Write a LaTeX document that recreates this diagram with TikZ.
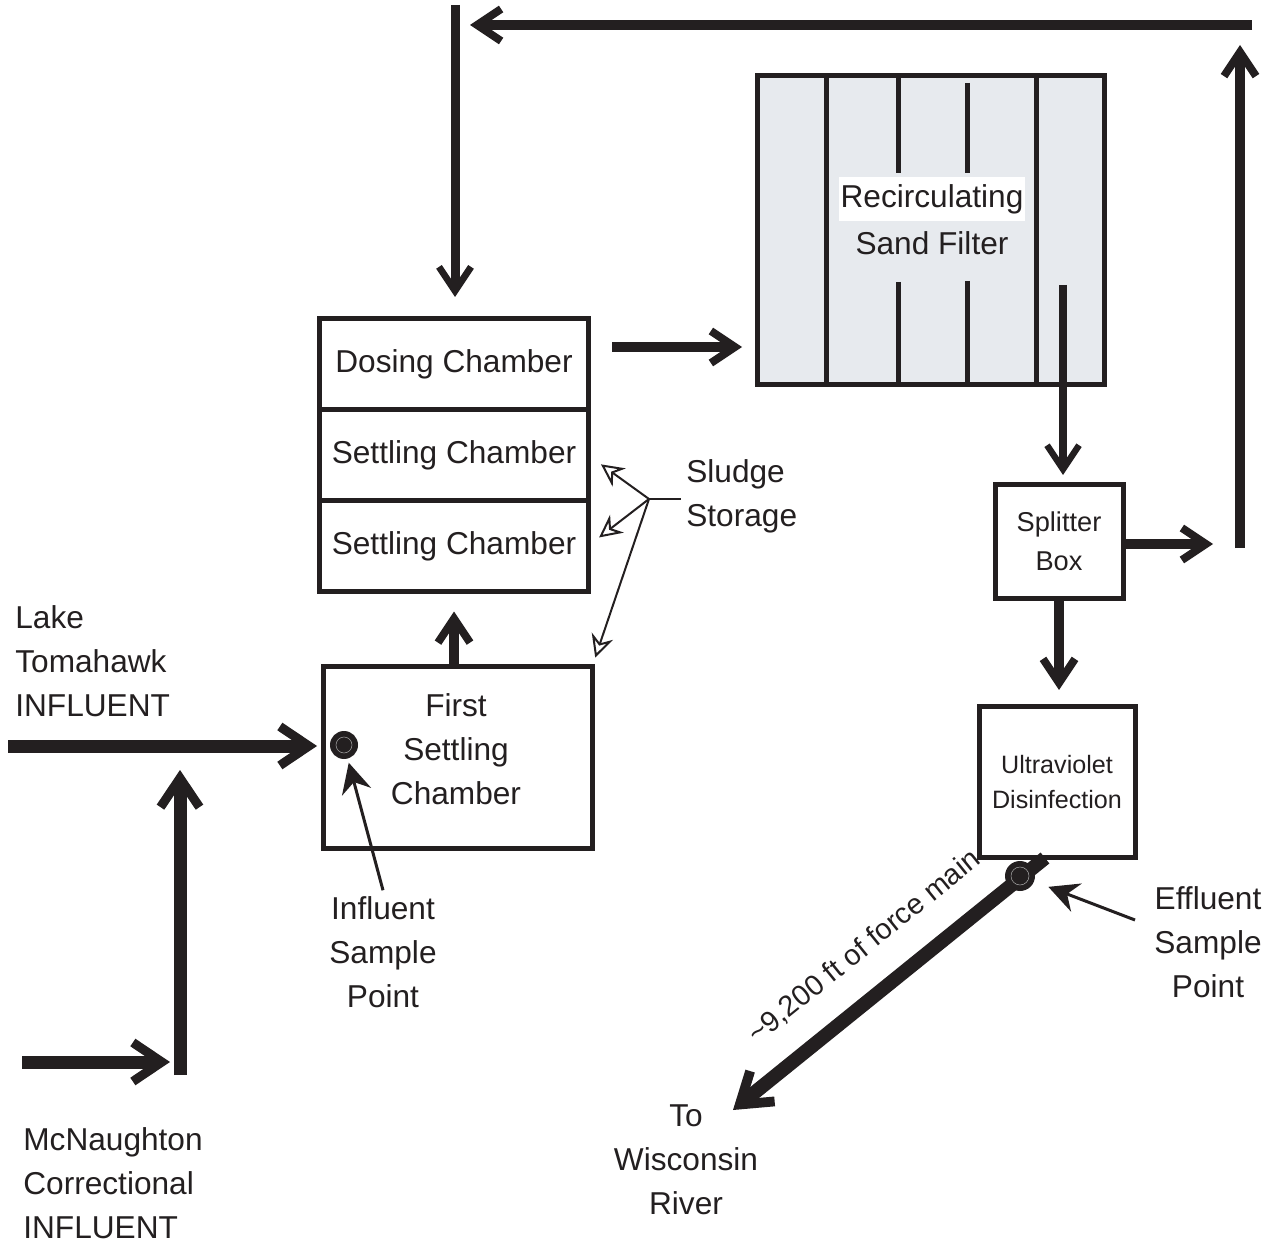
\documentclass[tikz,border=0pt]{standalone}
\usepackage{fontspec}
\setmainfont{Liberation Sans}
\usepackage{tikz}
\usetikzlibrary{positioning, arrows.meta, calc}
\definecolor{ink}{HTML}{231F20}
\definecolor{sandgrey}{HTML}{E7EAEE}

\begin{document}
\begin{tikzpicture}[x=0.2mm, y=-0.2mm,
        every node/.style={text=ink, font=\fontsize{18}{25}\selectfont},
        chamber/.style={draw=ink, line width=1mm, minimum width=53.6mm, minimum height=18.2mm, inner sep=0pt, outer sep=0pt},
        flow/.style={draw=ink, line width=2.1mm, line join=miter, -{Straight Barb[length=4.8mm, width=6.4mm, line width=0pt 0.75]}},
        bigflow/.style={flow, line width=2.6mm, -{Straight Barb[length=5.8mm, width=7.8mm, line width=0pt 0.7]}},
        pointer/.style={draw=ink, line width=0.6mm, -{Stealth[length=6mm, width=6mm, inset=2mm]}},
        sludgeptr/.style={draw=ink, line width=0.4mm, -{Stealth[fill=white, length=4.5mm, width=4.5mm, inset=1.5mm]}},
        sample/.style={circle, fill=ink, minimum size=5.6mm, inner sep=0pt}
    ]
        \useasboundingbox (0,0) rectangle (1271,1243);

        \node[chamber] (dosing) at (454,364) {Dosing Chamber};
        \node[chamber, below=0pt of dosing] (settleA) {Settling Chamber};
        \node[chamber, below=0pt of settleA] (settleB) {Settling Chamber};
        \node[chamber, minimum height=36.2mm] (first) at (458,757.5) {};
        \node[align=center] (firstText) at (456,749) {First\\Settling\\Chamber};

        \node[draw=ink, line width=1mm, fill=sandgrey, minimum width=69.4mm, minimum height=61.6mm, inner sep=0pt] (filter) at (930.5,230) {};
        \foreach \px/\ya/\yb in {826/76/384, 1036/76/384, 898/76/173, 967/83/173, 898/282/384, 967/281/387}
            \draw[ink, line width=1mm] (\px,\ya) -- (\px,\yb);
        \node[fill=white, inner xsep=0.3mm, inner ysep=1.5mm] (rsfA) at (932,199) {Recirculating};
        \node (rsfB) at (932,243) {Sand Filter};

        \node[chamber, minimum width=25.6mm, minimum height=22.6mm, align=center, font=\fontsize{15.5}{22}\selectfont] (splitter) at (1059,541.5) {Splitter\\Box};
        \node[chamber, minimum width=31.2mm, minimum height=30mm, align=center, font=\fontsize{14.3}{20}\selectfont] (uv) at (1057,782) {Ultraviolet\\Disinfection};

        \node[sample] (indot) at (344,745) {};
        \draw[gray!70, line width=0.1mm] (indot) circle (1.6mm);
        \node[sample, minimum size=6mm] (effdot) at (1020,876) {};

        \coordinate (recycleA) at (1252,25);
        \coordinate (recycleB) at (470,25);
        \coordinate (riserA) at (1240,548);
        \coordinate (riserB) at (1240,45);
        \coordinate (dropA) at (455,5);
        \coordinate (doseA) at (612,347);
        \coordinate (doseB) at (742,347);
        \coordinate (lakeA) at (8,746);
        \coordinate (lakeB) at (317,746);
        \coordinate (mcnA) at (22,1062);
        \coordinate (mcnB) at (170,1062);
        \coordinate (mcnC) at (180,1075);
        \coordinate (mcnD) at (180,770);
        \coordinate (drainA) at (1063,285);
        \coordinate (splitOut) at (1213,544);
        \coordinate (mainA) at (1045,858);
        \coordinate (mainB) at (733,1110);
        \coordinate (hub) at (649,499);
        \coordinate (effTail) at (1135,920);

        \draw[flow] (recycleA) -- (recycleB);
        \draw[flow] (riserA) -- (riserB);
        \draw[flow, line width=1.8mm, shorten >=4.3mm] (dropA) -- (dropA |- dosing.north);
        \draw[flow] (doseA) -- (doseB);
        \draw[flow, shorten >=4mm] (first.north -| settleB.south) -- (settleB.south);
        \draw[bigflow] (lakeA) -- (lakeB);
        \draw[bigflow] (mcnA) -- (mcnB);
        \draw[bigflow] (mcnC) -- (mcnD);
        \draw[flow, line width=1.7mm, shorten >=2mm] (drainA) -- (drainA |- splitter.north);
        \draw[flow] (splitOut -| splitter.east) -- (splitOut);
        \draw[flow, shorten >=3.4mm] (splitter.south) -- (splitter.south |- uv.north);
        \draw[bigflow, line width=2.8mm] (mainA) -- (mainB);
        \draw[gray!70, line width=0.1mm] (effdot) circle (1.8mm);

        \node[align=left, anchor=west, inner sep=0pt] (lake) at (15,661) {Lake\\Tomahawk\\INFLUENT};
        \node[align=left, anchor=west, inner sep=0pt] (mcn) at (23,1183) {McNaughton\\Correctional\\INFLUENT};
        \node[align=center] (infl) at (383,952) {Influent\\Sample\\Point};
        \node[align=center] (effl) at (1208,942) {Effluent\\Sample\\Point};
        \node[align=center] (river) at (686,1160) {To\\Wisconsin\\River};
        \node[align=left, anchor=west, inner sep=1mm] (sludge) at (681,496) {Sludge\\Storage};
        \node[rotate=39, font=\fontsize{16.5}{20}\selectfont] (force) at (864,947) {\textasciitilde 9,200 ft of force main};

        \draw[ink, line width=0.4mm] (hub) -- (hub -| sludge.west);
        \draw[sludgeptr, shorten >=3.2mm] (hub) -- (settleA.east);
        \draw[sludgeptr, shorten >=2.8mm] (hub) -- (settleB.east);
        \draw[sludgeptr, shorten >=2mm] (hub) -- (first.north east);
        \draw[pointer, shorten >=0.8mm] (infl.north) -- (indot);
        \draw[pointer, shorten >=3mm] (effTail) -- (effdot);
    \end{tikzpicture}
\end{document}
